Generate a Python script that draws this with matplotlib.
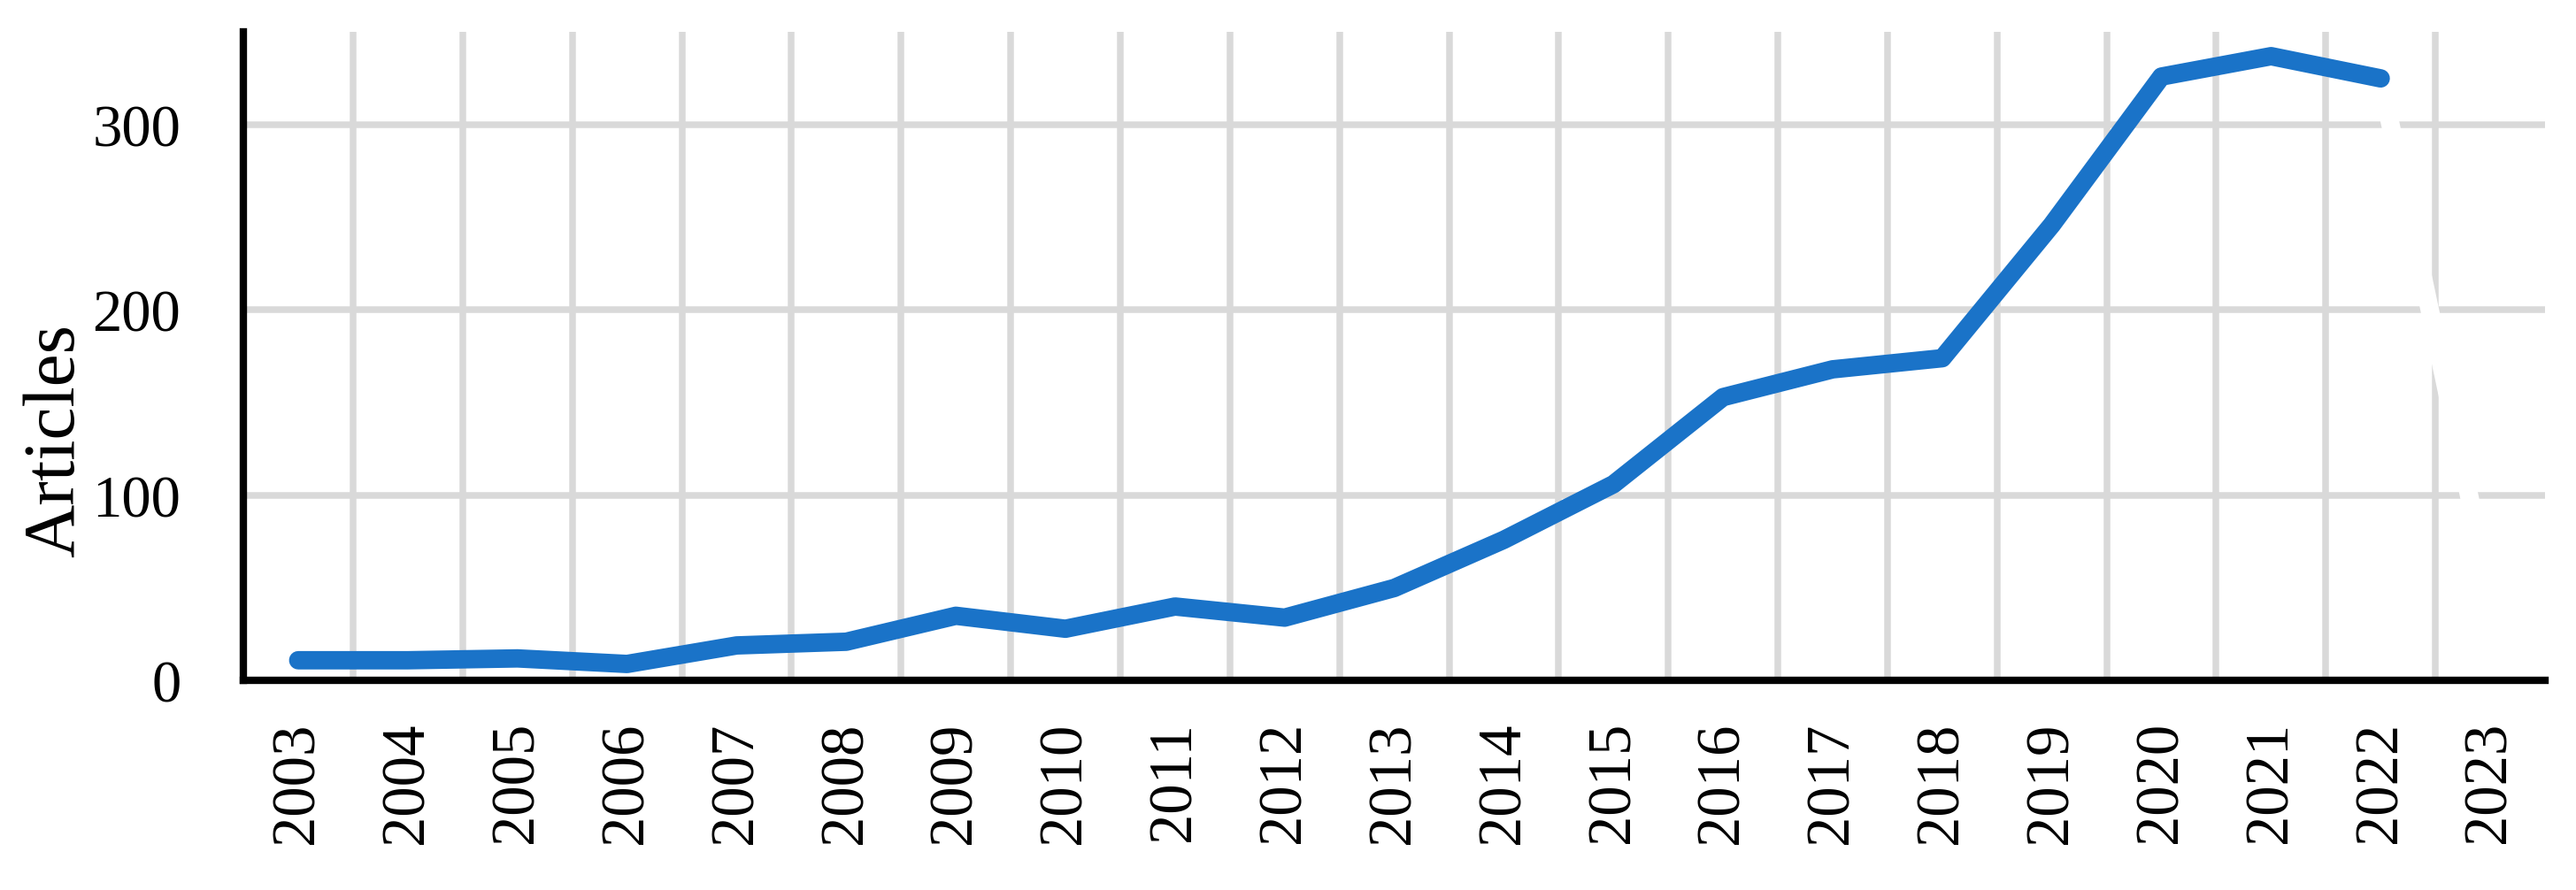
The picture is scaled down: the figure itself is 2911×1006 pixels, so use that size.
import numpy as np
import matplotlib
matplotlib.use("Agg")
import matplotlib.pyplot as plt

# Articles per year (2023 is a partial year, drawn in white)
years = [str(y) for y in range(2003, 2024)]
articles = [11, 11, 12, 9, 19, 21, 35, 28, 40, 34, 50, 76, 106, 153, 168, 174, 246, 326, 337, 325]
partial_years = ["2022", "2023"]
partial_articles = [325, 46]

plt.rcParams["font.family"] = ["Liberation Serif", "DejaVu Serif"]

fig = plt.figure(figsize=(2911 / 300, 1007 / 300), dpi=300)
ax = fig.add_axes([0.0945, 0.235, 0.8935, 0.728])

x = np.arange(len(years))
ax.plot(x[:len(articles)], articles, color="#1a73c8", lw=5.0,
        solid_capstyle="round", solid_joinstyle="round", zorder=3)
px = [years.index(y) for y in partial_years]
ax.plot(px, partial_articles, color="white", lw=5.0, zorder=2.5)

ax.set_xlim(-0.5, len(years) - 0.5)
ax.set_ylim(0, 350)
ax.set_yticks([0, 100, 200, 300])
ax.set_xticks(x)
ax.set_xticklabels(years, rotation=90)
ax.set_xticks(np.arange(len(years) - 1) + 0.5, minor=True)

ax.grid(axis="y", which="major", color="#d9d9d9", lw=1.8)
ax.grid(axis="x", which="minor", color="#d9d9d9", lw=1.8)
ax.set_axisbelow(True)

ax.tick_params(axis="both", which="both", length=0)
ax.tick_params(axis="x", pad=11, labelsize=16.5)
ax.tick_params(axis="y", pad=17, labelsize=16)

for side in ["top", "right"]:
    ax.spines[side].set_visible(False)
for side in ["left", "bottom"]:
    ax.spines[side].set_linewidth(2.0)
    ax.spines[side].set_color("black")

ax.set_ylabel("Articles", fontsize=20)
ax.yaxis.set_label_coords(-0.067, 0.372)

fig.savefig("out.png", dpi=300)
